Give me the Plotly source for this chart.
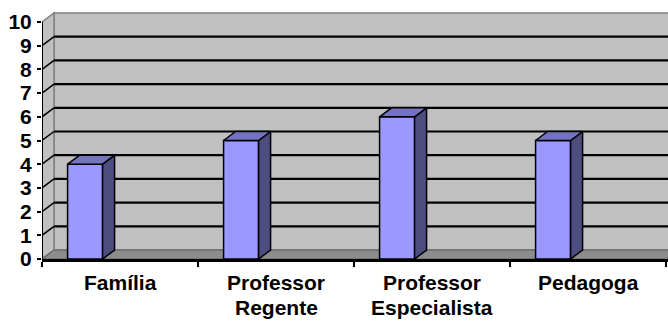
import plotly.graph_objects as go

# ---- data ----
categories = ["Família", "Professor Regente", "Professor Especialista", "Pedagoga"]
tick_text = ["Família", "Professor<br>Regente", "Professor<br>Especialista", "Pedagoga"]
values = [4, 5, 6, 5]
y_ticks = list(range(0, 11))

# ---- geometry (pixel-based scale) ----
W, H = 668, 321
ML, MB, MT, MR = 42, 62, 0, 0
CAT_PX = 156.0           # px per category
UNIT_PX = 23.7           # px per y unit
plot_w = W - ML - MR
plot_h = H - MT - MB
x_min = -0.5
x_max = x_min + plot_w / CAT_PX
y_max = plot_h / UNIT_PX
DX = 12 / CAT_PX          # depth offset in x units
DY = 9 / UNIT_PX          # depth offset in y units
BAR_W = 35 / CAT_PX
BAR_OFF = -0.336
Y_TOP = 10
LABEL_LINE1_PX = 23.5     # label first line centre below the axis (px)
LABEL_LINE_STEP = 25      # px between label lines

WALL = "#C0C0C0"
EDGE = "#808080"
FLOOR = "#8C8C8C"
FRONT = "#9999FF"
SIDE = "#4D4D80"
TOP = "#7373BF"

fig = go.Figure()

shapes = []
# back wall
shapes.append(dict(type="rect", xref="x", yref="y", x0=x_min + DX, x1=x_max + 1, y0=DY, y1=Y_TOP + DY,
                   fillcolor=WALL, line=dict(color=EDGE, width=1.5), layer="below"))
# left side wall
shapes.append(dict(type="path", xref="x", yref="y",
                   path=f"M{x_min},0 L{x_min},{Y_TOP} L{x_min+DX},{Y_TOP+DY} L{x_min+DX},{DY} Z",
                   fillcolor=WALL, line=dict(color=EDGE, width=1.5), layer="below"))
# floor
shapes.append(dict(type="path", xref="x", yref="y",
                   path=f"M{x_min},0 L{x_min+DX},{DY} L{x_max+1},{DY} L{x_max+1},0 Z",
                   fillcolor=FLOOR, line=dict(color="#6E6E6E", width=1.5), layer="below"))
# gridlines
for v in y_ticks[1:-1]:
    shapes.append(dict(type="line", xref="x", yref="y", x0=x_min + DX, x1=x_max + 1, y0=v + DY, y1=v + DY,
                       line=dict(color="black", width=2.2), layer="below"))
    shapes.append(dict(type="line", xref="x", yref="y", x0=x_min, x1=x_min + DX, y0=v, y1=v + DY,
                       line=dict(color="black", width=1.5), layer="below"))
# front y axis line
shapes.append(dict(type="line", xref="x", yref="y", x0=x_min, x1=x_min, y0=0, y1=Y_TOP,
                   line=dict(color="black", width=2), layer="above"))

fig.add_trace(go.Bar(x=list(range(len(values))), y=values, width=BAR_W, offset=BAR_OFF,
                     marker=dict(color=FRONT, line=dict(color="black", width=1.5)),
                     hoverinfo="skip"))

for i, v in enumerate(values):
    xl = i + BAR_OFF
    xr = xl + BAR_W
    fig.add_trace(go.Scatter(x=[xr, xr + DX, xr + DX, xr, xr], y=[0, DY, v + DY, v, 0],
                             mode="lines", fill="toself", fillcolor=SIDE,
                             line=dict(color="black", width=1.5), hoverinfo="skip"))
    fig.add_trace(go.Scatter(x=[xl, xl + DX, xr + DX, xr, xl], y=[v, v + DY, v + DY, v, v],
                             mode="lines", fill="toself", fillcolor=TOP,
                             line=dict(color="black", width=1.5), hoverinfo="skip"))

font = dict(family="Arial, Liberation Sans, sans-serif", size=21, color="black", weight="bold")

# category labels (one annotation per text line for tight line spacing)
annotations = []
for i, label in enumerate(tick_text):
    for j, line in enumerate(label.split("<br>")):
        py = LABEL_LINE1_PX + j * LABEL_LINE_STEP
        annotations.append(dict(x=i, xref="x", y=-py / plot_h, yref="paper", text=line,
                                showarrow=False, xanchor="center", yanchor="middle",
                                font=font))

fig.update_layout(
    width=W, height=H,
    margin=dict(l=ML, r=MR, t=MT, b=MB, pad=0),
    paper_bgcolor="white", plot_bgcolor="white",
    showlegend=False,
    shapes=shapes,
    annotations=annotations,
    xaxis=dict(range=[x_min, x_max], tickmode="array", tickvals=list(range(len(categories))),
               showticklabels=False, ticks="", showgrid=False, zeroline=False,
               showline=True, linecolor="black", linewidth=2.5,
               minor=dict(tickmode="array", tickvals=[i - 0.5 for i in range(len(categories) + 1)],
                          ticks="outside", ticklen=5, tickcolor="black", tickwidth=1.5, showgrid=False),
               fixedrange=True),
    yaxis=dict(range=[0, y_max], tickmode="array", tickvals=y_ticks, ticks="outside", ticklen=4,
               tickcolor="black", tickwidth=1.5, showgrid=False, zeroline=False, showline=False,
               tickfont=font, ticklabelstandoff=1, fixedrange=True),
)

fig.write_html("out.html")
